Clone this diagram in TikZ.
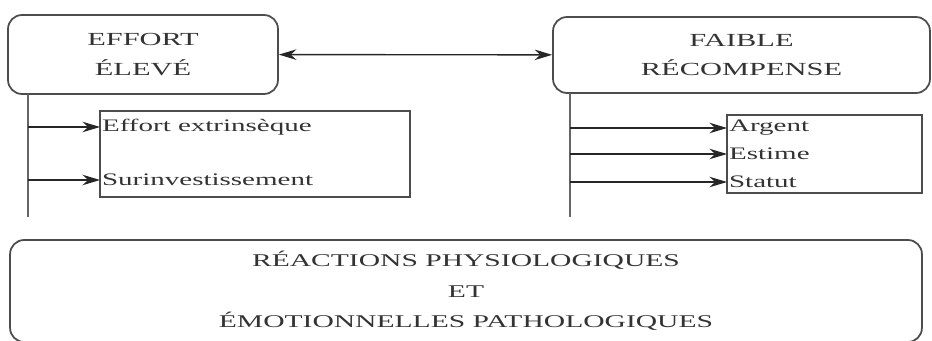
\documentclass[tikz,border=0pt]{standalone}
\usepackage{fontspec}
\setmainfont{Liberation Serif}[FakeStretch=1.65]
\usetikzlibrary{arrows.meta,positioning}

\begin{document}
\begin{tikzpicture}[x=0.02cm,y=-0.02cm,>={Stealth[length=10pt,width=6pt]},
    head/.style={draw=black!70,rounded corners=0.28cm,line width=1pt,align=center,
                 inner sep=0pt,text=black!80,font=\fontsize{10.5}{17}\selectfont},
    list/.style={draw=black!70,line width=1pt,inner sep=0pt},
    item/.style={anchor=west,inner sep=1pt,text=black!80,font=\fontsize{10}{12}\selectfont},
    trunk/.style={draw=black!60,line width=1.6pt},
    branch/.style={->,draw=black!85,line width=0.7pt}]

  \useasboundingbox (0,0) rectangle (932,341);

  % the two upper boxes
  \node[head,minimum width=5.4cm,minimum height=1.58cm]  (eff) at (143,54.5) {EFFORT\\ÉLEVÉ};
  \node[head,minimum width=7.54cm,minimum height=1.52cm] (rec) at (741.5,55) {FAIBLE\\RÉCOMPENSE};

  % lists
  \node[list,minimum width=6.2cm,minimum height=1.72cm]  (effl) at (255,154) {};
  \node[item] (ext) at (100,127) {Effort extrinsèque};
  \node[item] (sur) at (100,180) {Surinvestissement};

  \node[list,minimum width=3.9cm,minimum height=1.56cm]  (recl) at (824.5,154) {};
  \node[item] (arg) at (727,128) {Argent};
  \node[item] (est) at (727,154) {Estime};
  \node[item] (sta) at (727,182) {Statut};

  % bottom box
  \node[head,minimum width=18.24cm,minimum height=2.04cm,
        font=\fontsize{10.2}{17.3}\selectfont] (reac) at (466,291)
       {RÉACTIONS PHYSIOLOGIQUES\\ET\\ÉMOTIONNELLES PATHOLOGIQUES};

  \coordinate (efft) at (28,94);
  \coordinate (effb) at (28,217);
  \coordinate (rect) at (570,93);
  \coordinate (recb) at (570,217);

  \draw[<->,draw=black!85,line width=0.8pt] (eff) -- (rec);
  \draw[trunk] (efft) -- (effb);
  \draw[trunk] (rect) -- (recb);

  \path (ext -| efft) edge[branch] (ext)
        (sur -| efft) edge[branch] (sur)
        (arg -| rect) edge[branch] (arg)
        (est -| rect) edge[branch] (est)
        (sta -| rect) edge[branch] (sta);
\end{tikzpicture}
\end{document}
